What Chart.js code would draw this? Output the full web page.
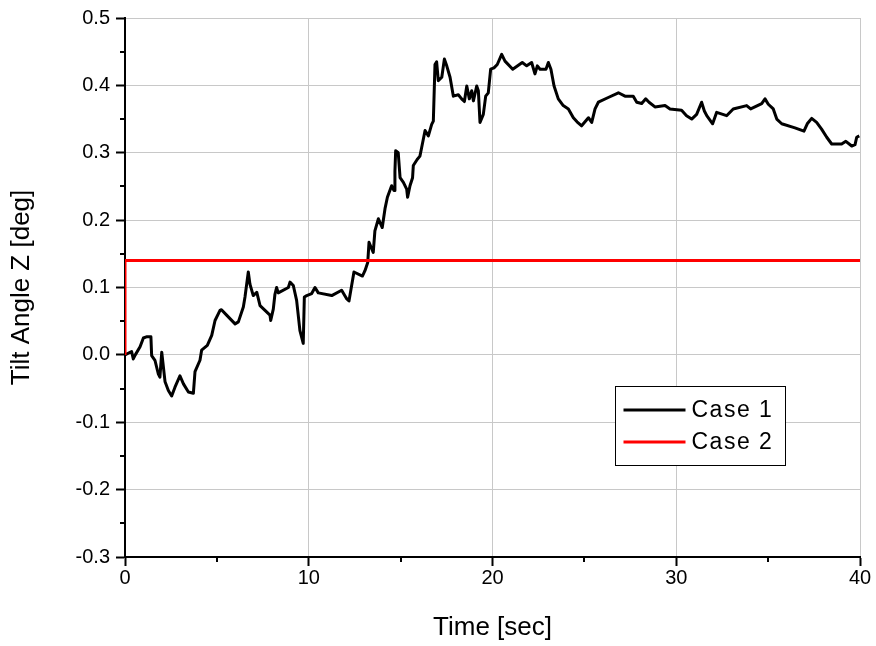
<!DOCTYPE html>
<html>
<head>
<meta charset="utf-8">
<script src="https://cdn.jsdelivr.net/npm/chart.js@4.4.0/dist/chart.umd.min.js"></script>
<style>
  html, body { margin: 0; padding: 0; background: #fff; }
  canvas { display: block; }
</style>
</head>
<body>
<canvas id="chart" width="876" height="646"></canvas>
<script>
// Case 1 trace (time in sec, tilt in deg)
const timeSec = [
  0, 0.36, 0.45, 0.56, 0.82, 1.0, 1.2, 1.41, 1.45, 1.63,
  1.81, 1.9, 2.0, 2.18, 2.36, 2.54, 2.72, 2.99, 3.18, 3.45,
  3.72, 3.81, 4.08, 4.17, 4.48, 4.72, 4.9, 5.17, 5.25, 5.53,
  5.99, 6.17, 6.44, 6.53, 6.71, 6.8, 6.98, 7.17, 7.35, 7.62,
  7.89, 7.93, 8.07, 8.16, 8.25, 8.34, 8.89, 8.98, 9.16, 9.34,
  9.52, 9.7, 9.76, 9.89, 10.16, 10.34, 10.52, 11.25, 11.79, 12.07,
  12.19, 12.46, 12.92, 13.06, 13.21, 13.28, 13.51, 13.6, 13.79, 14.0,
  14.15, 14.28, 14.51, 14.64, 14.69, 14.73, 14.87, 14.97, 15.15, 15.33,
  15.38, 15.51, 15.65, 15.69, 15.9, 16.05, 16.14, 16.33, 16.51, 16.69,
  16.78, 16.87, 16.96, 17.05, 17.24, 17.38, 17.51, 17.69, 17.87, 18.14,
  18.32, 18.47, 18.6, 18.74, 18.87, 18.96, 19.14, 19.23, 19.32, 19.5,
  19.63, 19.77, 19.9, 20.08, 20.26, 20.5, 20.68, 21.1, 21.62, 21.86,
  22.13, 22.31, 22.44, 22.59, 22.91, 23.04, 23.18, 23.35, 23.58, 23.85,
  24.13, 24.4, 24.6, 24.85, 25.22, 25.4, 25.58, 25.76, 26.3, 26.85,
  27.21, 27.66, 27.85, 28.12, 28.34, 28.52, 28.84, 29.39, 29.66, 30.29,
  30.56, 30.84, 31.11, 31.38, 31.53, 31.66, 31.98, 32.2, 32.74, 33.1,
  33.83, 34.05, 34.65, 34.83, 35.01, 35.28, 35.47, 35.74, 36.46, 36.95,
  37.13, 37.37, 37.64, 37.91, 38.19, 38.46, 39.0, 39.23, 39.55, 39.73,
  39.82, 39.96
];
const tiltCase1 = [
  0.0, 0.005, -0.006, 0.0, 0.012, 0.025, 0.027, 0.027, -0.001, -0.008,
  -0.028, -0.033, 0.004, -0.04, -0.053, -0.061, -0.048, -0.031, -0.043, -0.055,
  -0.057, -0.025, -0.008, 0.007, 0.014, 0.029, 0.051, 0.066, 0.067, 0.059,
  0.046, 0.049, 0.071, 0.086, 0.123, 0.105, 0.088, 0.093, 0.073, 0.066,
  0.059, 0.051, 0.068, 0.09, 0.1, 0.092, 0.1, 0.108, 0.103, 0.081,
  0.036, 0.017, 0.086, 0.088, 0.091, 0.1, 0.092, 0.088, 0.096, 0.083,
  0.08, 0.123, 0.117, 0.125, 0.137, 0.167, 0.152, 0.184, 0.202, 0.189,
  0.217, 0.234, 0.251, 0.244, 0.273, 0.303, 0.30, 0.263, 0.256, 0.246,
  0.234, 0.251, 0.263, 0.281, 0.29, 0.295, 0.307, 0.333, 0.325, 0.342,
  0.347, 0.431, 0.435, 0.407, 0.412, 0.439, 0.429, 0.412, 0.384, 0.386,
  0.38, 0.376, 0.399, 0.38, 0.392, 0.377, 0.399, 0.392, 0.345, 0.357,
  0.384, 0.389, 0.424, 0.426, 0.431, 0.446, 0.436, 0.424, 0.434, 0.429,
  0.434, 0.417, 0.429, 0.424, 0.424, 0.434, 0.424, 0.399, 0.38, 0.37,
  0.365, 0.352, 0.346, 0.34, 0.352, 0.345, 0.365, 0.375, 0.382, 0.389,
  0.384, 0.384, 0.375, 0.373, 0.38, 0.375, 0.368, 0.37, 0.365, 0.363,
  0.355, 0.35, 0.357, 0.375, 0.362, 0.355, 0.343, 0.36, 0.355, 0.365,
  0.37, 0.365, 0.373, 0.38, 0.372, 0.365, 0.35, 0.343, 0.337, 0.332,
  0.343, 0.351, 0.345, 0.335, 0.323, 0.313, 0.313, 0.317, 0.31, 0.312,
  0.323, 0.325
];
// Case 2: step up at t = 0, then constant
const case2Time = [0, 0, 40];
const case2Tilt = [0, 0.14, 0.14];

const xTicks = [0, 10, 20, 30, 40];
const yTicks = [-0.3, -0.2, -0.1, 0.0, 0.1, 0.2, 0.3, 0.4, 0.5];
const xMinor = [5, 15, 25, 35];
const yMinor = [-0.25, -0.15, -0.05, 0.05, 0.15, 0.25, 0.35, 0.45];

const FONT = "'Liberation Sans', Arial, sans-serif";
const pts = (xs, ys) => xs.map((x, i) => ({ x: x, y: ys[i] }));

// small outward ticks between the labelled ones
const minorTicks = {
  id: 'minorTicks',
  afterDraw(chart) {
    const ctx = chart.ctx, sx = chart.scales.x, sy = chart.scales.y;
    ctx.save();
    ctx.strokeStyle = '#000';
    ctx.lineWidth = 2;
    ctx.beginPath();
    xMinor.forEach(v => {
      const px = Math.round(sx.getPixelForValue(v));
      ctx.moveTo(px, sx.top);
      ctx.lineTo(px, sx.top + 5);
    });
    yMinor.forEach(v => {
      const py = Math.round(sy.getPixelForValue(v));
      ctx.moveTo(sy.right, py);
      ctx.lineTo(sy.right - 5, py);
    });
    ctx.stroke();
    ctx.restore();
  }
};

// boxed legend inside the plot, lower right
const boxLegend = {
  id: 'boxLegend',
  afterDraw(chart) {
    const ctx = chart.ctx, a = chart.chartArea;
    const left = a.left + 490.5, top = a.top + 368.5, w = 170, h = 79;
    ctx.save();
    ctx.fillStyle = '#fff';
    ctx.fillRect(left, top, w, h);
    ctx.strokeStyle = '#000';
    ctx.lineWidth = 1;
    ctx.strokeRect(left, top, w, h);
    ctx.font = '23px ' + FONT;
    ctx.letterSpacing = '1.5px';
    ctx.textBaseline = 'middle';
    ctx.textAlign = 'left';
    chart.data.datasets.forEach((ds, i) => {
      const yy = Math.round(top + 23 + i * 32.4);
      ctx.strokeStyle = ds.borderColor;
      ctx.lineWidth = 3;
      ctx.beginPath();
      ctx.moveTo(left + 8, yy);
      ctx.lineTo(left + 70, yy);
      ctx.stroke();
      ctx.fillStyle = '#000';
      ctx.fillText(ds.label, left + 76, yy + 1);
    });
    ctx.restore();
  }
};

new Chart(document.getElementById('chart'), {
  type: 'line',
  data: {
    datasets: [
      {
        label: 'Case 1',
        data: pts(timeSec, tiltCase1),
        borderColor: '#000000',
        borderWidth: 3,
        order: 1
      },
      {
        label: 'Case 2',
        data: pts(case2Time, case2Tilt),
        borderColor: '#ff0000',
        borderWidth: 3,
        order: 0
      }
    ]
  },
  options: {
    responsive: false,
    animation: false,
    devicePixelRatio: 1,
    layout: { padding: { top: 17, right: 16, left: 0, bottom: 0 } },
    elements: {
      point: { radius: 0 },
      line: { tension: 0, fill: false, borderJoinStyle: 'round' }
    },
    plugins: {
      legend: { display: false },
      tooltip: { enabled: false }
    },
    scales: {
      x: {
        type: 'linear',
        min: 0,
        max: 40,
        afterBuildTicks: s => { s.ticks = xTicks.map(v => ({ value: v })); },
        afterFit: s => { s.height = 89; },
        ticks: { color: '#000', font: { family: FONT, size: 20 }, padding: 0, maxRotation: 0 },
        grid: { color: '#c8c8c8', lineWidth: 1, tickColor: '#000', tickLength: 9, tickWidth: 2 },
        border: { color: '#000', width: 2 },
        title: {
          display: true,
          text: 'Time [sec]',
          color: '#000',
          font: { family: FONT, size: 26 },
          padding: { top: 0, bottom: 3 }
        }
      },
      y: {
        min: -0.3,
        max: 0.5,
        afterBuildTicks: s => { s.ticks = yTicks.map(v => ({ value: v })); },
        afterFit: s => { s.width = 125; },
        ticks: {
          color: '#000',
          font: { family: FONT, size: 20 },
          padding: 6,
          callback: v => v.toFixed(1)
        },
        grid: { color: '#c8c8c8', lineWidth: 1, tickColor: '#000', tickLength: 9, tickWidth: 2 },
        border: { color: '#000', width: 2 },
        title: {
          display: true,
          text: 'Tilt Angle Z [deg]',
          color: '#000',
          font: { family: FONT, size: 26 },
          padding: { top: 6, bottom: 0 }
        }
      }
    }
  },
  plugins: [minorTicks, boxLegend]
});
</script>
</body>
</html>
